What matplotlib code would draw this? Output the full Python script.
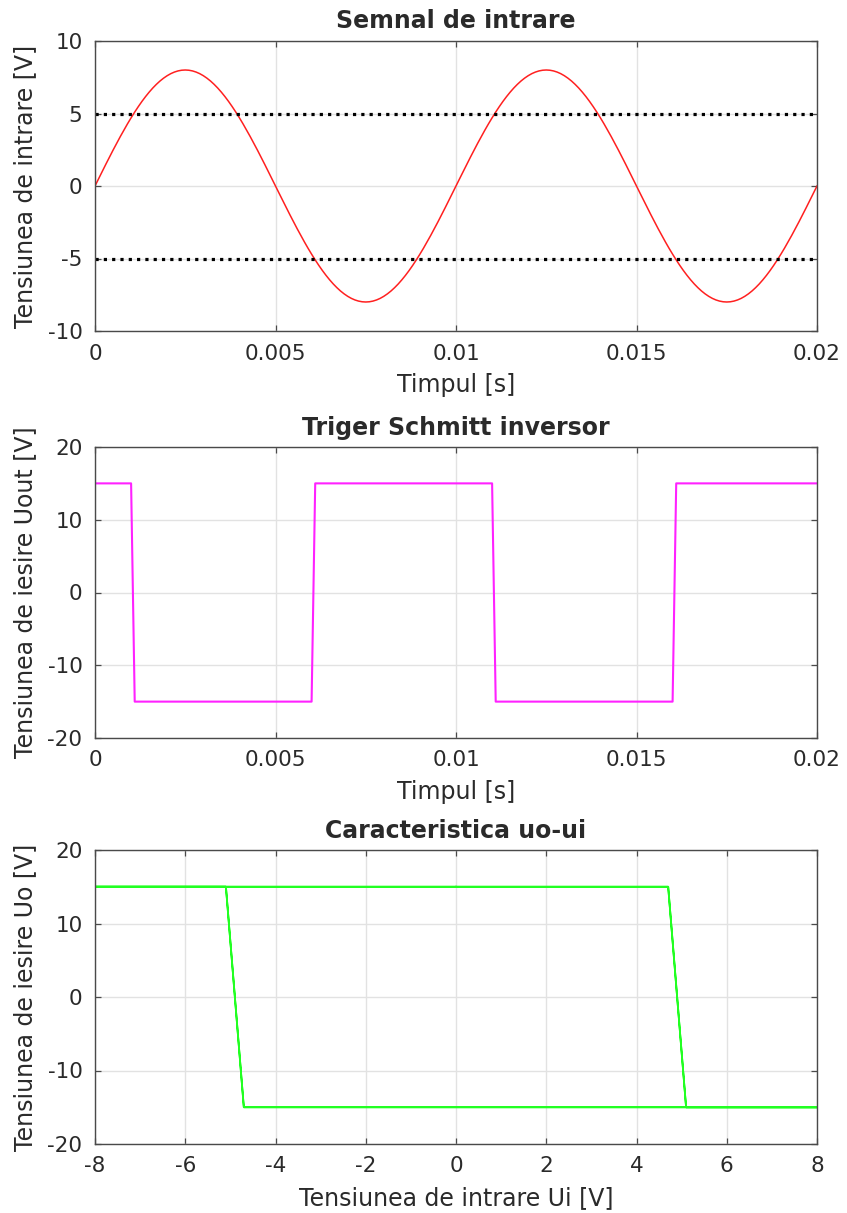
import matplotlib
matplotlib.use("Agg")
import matplotlib.pyplot as plt
import numpy as np

# ---------------- data ----------------
# time axis: 0 .. 0.02 s, step 1e-4 s (201 samples)
t_start, t_stop, t_step = 0.0, 0.02, 1e-4
u_in = [
    0.000, 0.502, 1.003, 1.499, 1.990, 2.472, 2.945, 3.406, 3.854, 4.287,
    4.702, 5.099, 5.476, 5.832, 6.164, 6.472, 6.755, 7.010, 7.239, 7.438,
    7.608, 7.749, 7.858, 7.937, 7.984, 8.000, 7.984, 7.937, 7.858, 7.749,
    7.608, 7.438, 7.239, 7.010, 6.755, 6.472, 6.164, 5.832, 5.476, 5.099,
    4.702, 4.287, 3.854, 3.406, 2.945, 2.472, 1.990, 1.499, 1.003, 0.502,
    0.000, -0.502, -1.003, -1.499, -1.990, -2.472, -2.945, -3.406, -3.854, -4.287,
    -4.702, -5.099, -5.476, -5.832, -6.164, -6.472, -6.755, -7.010, -7.239, -7.438,
    -7.608, -7.749, -7.858, -7.937, -7.984, -8.000, -7.984, -7.937, -7.858, -7.749,
    -7.608, -7.438, -7.239, -7.010, -6.755, -6.472, -6.164, -5.832, -5.476, -5.099,
    -4.702, -4.287, -3.854, -3.406, -2.945, -2.472, -1.990, -1.499, -1.003, -0.502,
    0.000, 0.502, 1.003, 1.499, 1.990, 2.472, 2.945, 3.406, 3.854, 4.287,
    4.702, 5.099, 5.476, 5.832, 6.164, 6.472, 6.755, 7.010, 7.239, 7.438,
    7.608, 7.749, 7.858, 7.937, 7.984, 8.000, 7.984, 7.937, 7.858, 7.749,
    7.608, 7.438, 7.239, 7.010, 6.755, 6.472, 6.164, 5.832, 5.476, 5.099,
    4.702, 4.287, 3.854, 3.406, 2.945, 2.472, 1.990, 1.499, 1.003, 0.502,
    0.000, -0.502, -1.003, -1.499, -1.990, -2.472, -2.945, -3.406, -3.854, -4.287,
    -4.702, -5.099, -5.476, -5.832, -6.164, -6.472, -6.755, -7.010, -7.239, -7.438,
    -7.608, -7.749, -7.858, -7.937, -7.984, -8.000, -7.984, -7.937, -7.858, -7.749,
    -7.608, -7.438, -7.239, -7.010, -6.755, -6.472, -6.164, -5.832, -5.476, -5.099,
    -4.702, -4.287, -3.854, -3.406, -2.945, -2.472, -1.990, -1.499, -1.003, -0.502,
    0.000,
]
thresholds = [5, -5]

# output (Schmitt trigger) corner points
t_out = [0.0, 0.0010, 0.0011, 0.0060, 0.0061, 0.0110, 0.0111, 0.0160, 0.0161, 0.0200]
u_out = [15, 15, -15, -15, 15, 15, -15, -15, 15, 15]

# characteristic uo vs ui (corner points, in time order)
ui_char = [0.0, 4.702, 5.099, 8.0, -4.702, -5.099, -8.0, 4.702, 5.099, 8.0, -4.702, -5.099, -8.0, 0.0]
uo_char = [15, 15, -15, -15, -15, 15, 15, 15, -15, -15, -15, 15, 15, 15]

titles = ["Semnal de intrare", "Triger Schmitt inversor", "Caracteristica uo-ui"]
xlabels = ["Timpul [s]", "Timpul [s]", "Tensiunea de intrare Ui [V]"]
ylabels = ["Tensiunea de intrare [V]", "Tensiunea de iesire Uout [V]", "Tensiunea de iesire Uo [V]"]
time_ticks = [0, 0.005, 0.01, 0.015, 0.02]
time_ticklabels = ["0", "0.005", "0.01", "0.015", "0.02"]
ui_ticks = [-8, -6, -4, -2, 0, 2, 4, 6, 8]
yticks1 = [-10, -5, 0, 5, 10]
yticks23 = [-20, -10, 0, 10, 20]

# ---------------- figure ----------------
plt.rcParams['font.family'] = ['DejaVu Sans']
plt.rcParams['axes.unicode_minus'] = False
W, H = 847, 1213
fig = plt.figure(figsize=(W / 100, H / 100), dpi=100)

def px_axes(top, bottom, left=95, right=817):
    return fig.add_axes([left / W, 1 - bottom / H, (right - left) / W, (bottom - top) / H])

boxes = [(41, 331), (447, 738), (850, 1144)]
ax1 = px_axes(*boxes[0])
ax2 = px_axes(*boxes[1])
ax3 = px_axes(*boxes[2])

frame_col = '#4a4a4a'
text_col = '#2a2a2a'
grid_col = '#e2e2e2'

def style(ax, box, title, xlabel, ylabel):
    h = box[1] - box[0]
    ax.set_title(title, fontsize=17, fontweight='bold', color=text_col, pad=9)
    ax.set_xlabel(xlabel, fontsize=17, color=text_col)
    ax.set_ylabel(ylabel, fontsize=17, color=text_col)
    ax.xaxis.set_label_coords(0.5, -42 / h)
    ax.yaxis.set_label_coords(-58 / 722, 0.5)
    ax.grid(True, color=grid_col, linewidth=1.0)
    ax.set_axisbelow(True)
    ax.tick_params(direction='in', length=4, width=0.9, top=True, right=True,
                   labelsize=15.5, colors=frame_col, labelcolor=text_col)
    ax.tick_params(axis='x', pad=9)
    ax.tick_params(axis='y', pad=9)
    for s in ax.spines.values():
        s.set_color(frame_col)
        s.set_linewidth(1.0)

t = np.arange(len(u_in)) * t_step + t_start

# panel 1
ax1.plot(t, u_in, color='#ff2020', linewidth=1.1)
for th in thresholds:
    ax1.plot([t_start, t_stop], [th, th], color='black', linewidth=2.3,
             linestyle=(0, (1, 1.6)))
ax1.set_xlim(0, 0.02)
ax1.set_ylim(-10, 10)
ax1.set_xticks(time_ticks)
ax1.set_xticklabels(time_ticklabels)
ax1.set_yticks(yticks1)
style(ax1, boxes[0], titles[0], xlabels[0], ylabels[0])

# panel 2
ax2.plot(t_out, u_out, color='#ff22ff', linewidth=1.5)
ax2.set_xlim(0, 0.02)
ax2.set_ylim(-20, 20)
ax2.set_xticks(time_ticks)
ax2.set_xticklabels(time_ticklabels)
ax2.set_yticks(yticks23)
style(ax2, boxes[1], titles[1], xlabels[1], ylabels[1])

# panel 3
ax3.plot(ui_char, uo_char, color='#22ff22', linewidth=1.3)
ax3.set_xlim(-8, 8)
ax3.set_ylim(-20, 20)
ax3.set_xticks(ui_ticks)
ax3.set_yticks(yticks23)
style(ax3, boxes[2], titles[2], xlabels[2], ylabels[2])

fig.savefig('out.png', dpi=100)
